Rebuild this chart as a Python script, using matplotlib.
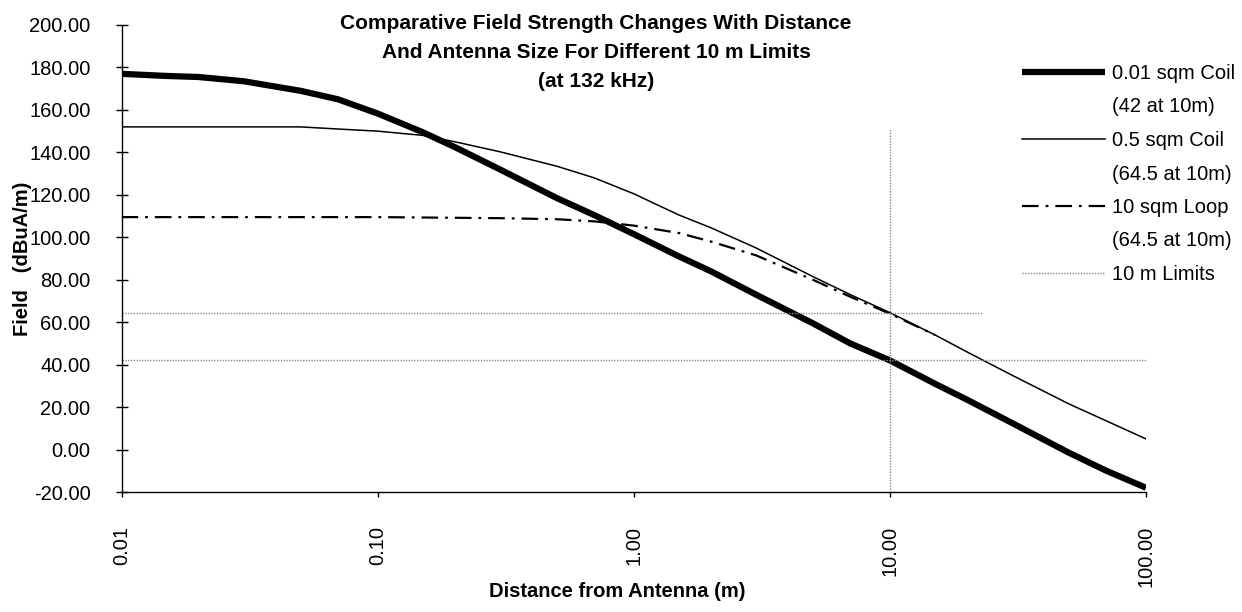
import matplotlib
matplotlib.use("Agg")
import matplotlib.pyplot as plt
from matplotlib.lines import Line2D
from matplotlib.ticker import FixedLocator, FormatStrFormatter, NullLocator

plt.rcParams["font.family"] = ["Liberation Sans", "DejaVu Sans"]
plt.rcParams["lines.scale_dashes"] = False

DIST = [0.01, 0.015, 0.02, 0.03, 0.05, 0.07, 0.1, 0.15, 0.2, 0.3, 0.5, 0.7,
        1, 1.5, 2, 3, 5, 7, 10, 15, 20, 30, 50, 70, 100]
COIL_001 = [177, 176, 175.5, 173.5, 169, 165, 158.3, 149.5, 142.5, 132, 118.5,
            110.5, 101.5, 91, 84, 73, 59.5, 50, 42, 31, 23.5, 12.5, -1.5, -10, -18]
COIL_05 = [152, 152, 152, 152, 152, 151, 150, 148, 145, 140.3, 133.5, 128,
           120.5, 110.5, 104.5, 95, 81.5, 73, 64.5, 54, 46, 35, 21.5, 13.5, 5]

LOOP_DIST = [0.01, 0.1, 0.3, 0.5, 0.7, 1, 1.5, 2, 3, 5, 7, 10, 15]
LOOP_10 = [109.5, 109.5, 109, 108.5, 107.5, 105.5, 102, 98, 91.5, 80, 72, 64, 54]

# 10 m limit markers
LIMIT_HI_X, LIMIT_HI_Y = [0.01, 23], [64.5, 64.5]
LIMIT_LO_X, LIMIT_LO_Y = [0.01, 100], [42, 42]
LIMIT_V_X, LIMIT_V_Y = [10, 10], [-20, 151.5]

LABELS = ["0.01 sqm Coil", "(42 at 10m)", "0.5 sqm Coil", "(64.5 at 10m)",
          "10 sqm Loop", "(64.5 at 10m)", "10 m Limits"]

X_TICKS = [0.01, 0.1, 1, 10, 100]
Y_TICKS = list(range(-20, 201, 20))

FS = 14.5
dot_style = dict(color="#8a8a8a", lw=1.0, ls=(0, (1, 1)))
dashdot = (0, (12, 5, 2, 5))

fig = plt.figure(figsize=(12.42, 6.12), dpi=100)
ax = fig.add_axes([121.5 / 1242, 1 - 492 / 612, (1146 - 121.5) / 1242, (492 - 25) / 612])

l1, = ax.plot(DIST, COIL_001, color="black", lw=4.5, solid_capstyle="butt")
l2, = ax.plot(DIST, COIL_05, color="black", lw=1.1)
l3, = ax.plot(LOOP_DIST, LOOP_10, color="black", lw=1.6, ls=dashdot)
l4, = ax.plot(LIMIT_HI_X, LIMIT_HI_Y, **dot_style)
ax.plot(LIMIT_LO_X, LIMIT_LO_Y, **dot_style)
ax.plot(LIMIT_V_X, LIMIT_V_Y, **dot_style)

ax.set_xscale("log")
ax.set_xlim(0.01, 100)
ax.set_ylim(-20, 200)
ax.xaxis.set_major_locator(FixedLocator(X_TICKS))
ax.xaxis.set_minor_locator(NullLocator())
ax.xaxis.set_major_formatter(FormatStrFormatter("%.2f"))
ax.yaxis.set_major_locator(FixedLocator(Y_TICKS))
ax.yaxis.set_major_formatter(FormatStrFormatter("%.2f"))

for side in ("top", "right"):
    ax.spines[side].set_visible(False)
for side in ("left", "bottom"):
    ax.spines[side].set_linewidth(1.0)

ax.tick_params(axis="y", direction="inout", length=8.6, width=1.0, pad=18, labelsize=FS)
ax.tick_params(axis="x", direction="out", length=3.6, width=1.0, pad=21, labelsize=FS,
               labelrotation=90)
for lab in ax.get_xticklabels():
    lab.set_va("top")

ax.set_xlabel("Distance from Antenna (m)", fontsize=FS, fontweight="bold")
ax.xaxis.set_label_coords((617.5 - 121.5) / 1024.5, (492 - 582) / 467)
ax.set_ylabel("Field   (dBuA/m)", fontsize=FS, fontweight="bold", labelpad=-2)

fig.text(596 / 1242, 1 - 14 / 612,
         "Comparative Field Strength Changes With Distance\n"
         "And Antenna Size For Different 10 m Limits\n(at 132 kHz)",
         ha="center", va="top", fontsize=15, fontweight="bold", linespacing=1.67)

blank = Line2D([], [], color="none")
handles = [l1, blank, l2, blank, l3, blank, l4]
fig.legend(handles, LABELS, loc="upper left", bbox_to_anchor=(1022 / 1242, 1 - 64 / 612),
           frameon=False, fontsize=FS, handlelength=4.1, handletextpad=0.35,
           labelspacing=0.72, borderpad=0, borderaxespad=0)

fig.savefig("out.png", dpi=100)
